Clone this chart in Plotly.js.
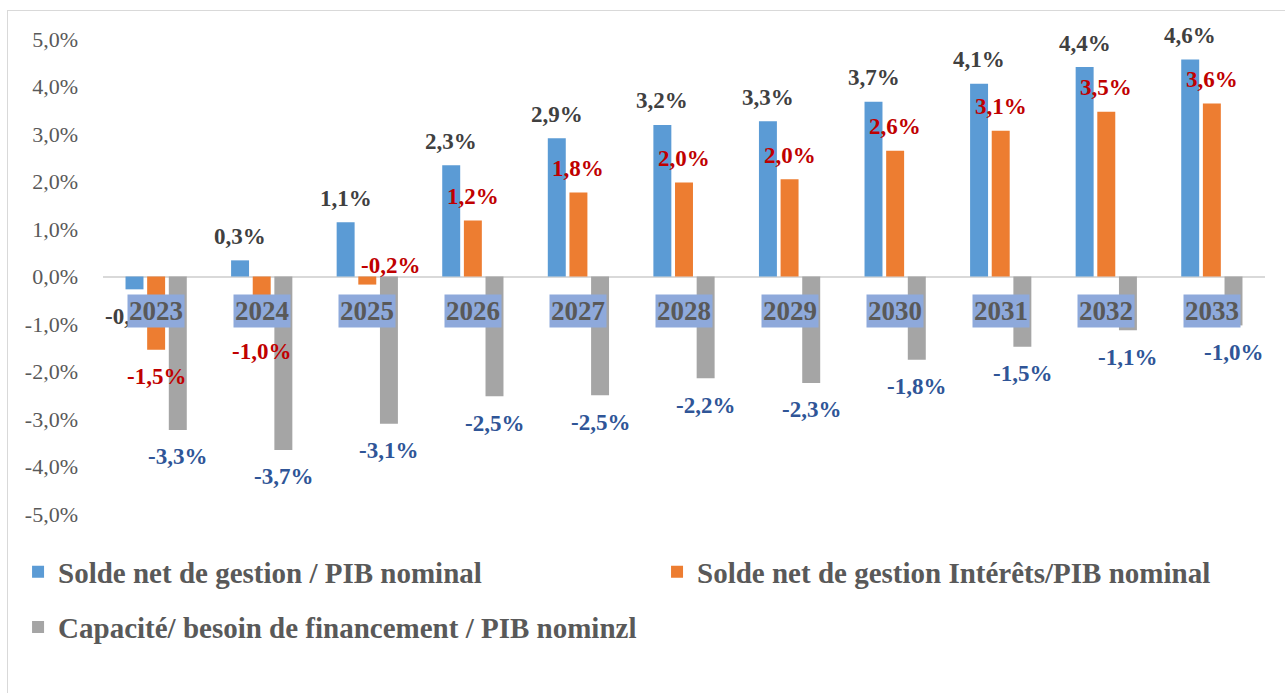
<!DOCTYPE html>
<html>
<head>
<meta charset="utf-8">
<script src="https://cdn.plot.ly/plotly-3.0.1.min.js"></script>
<style>
  html, body { margin: 0; padding: 0; background: #fff; }
  #chart { position: absolute; left: 0; top: 0; width: 1285px; height: 693px; }
  #frame { position: absolute; left: 7px; top: 10px; width: 1290px; height: 700px;
           border: 1px solid #D9D9D9; pointer-events: none; }
</style>
</head>
<body>
<div id="chart"></div>
<div id="frame"></div>
<script>
// ---- data ----
const years = ["2023","2024","2025","2026","2027","2028","2029","2030","2031","2032","2033"];
const seriesNames = [
  "Solde net de gestion / PIB nominal",
  "Solde net de gestion Intérêts/PIB nominal",
  "Capacité/ besoin de financement / PIB nominzl"
];
const soldeNet = [-0.27, 0.34, 1.14, 2.34, 2.91, 3.19, 3.27, 3.68, 4.06, 4.41, 4.57];
const soldeInterets = [-1.54, -1.0, -0.17, 1.18, 1.77, 1.98, 2.05, 2.65, 3.07, 3.47, 3.64];
const capacite = [-3.23, -3.65, -3.1, -2.52, -2.5, -2.14, -2.24, -1.75, -1.48, -1.13, -1.03];
const soldeNetLabels = ["-0,3%","0,3%","1,1%","2,3%","2,9%","3,2%","3,3%","3,7%","4,1%","4,4%","4,6%"];
const soldeInteretsLabels = ["-1,5%","-1,0%","-0,2%","1,2%","1,8%","2,0%","2,0%","2,6%","3,1%","3,5%","3,6%"];
const capaciteLabels = ["-3,3%","-3,7%","-3,1%","-2,5%","-2,5%","-2,2%","-2,3%","-1,8%","-1,5%","-1,1%","-1,0%"];
const yTickValues = [-5, -4, -3, -2, -1, 0, 1, 2, 3, 4, 5];

// ---- styling ----
const SERIF = "Liberation Serif, Times New Roman, serif";
const colors = ["#5B9BD5", "#ED7D31", "#A5A5A5"];
const labelColors = ["#404040", "#C00000", "#2F5597"];
const bargap = 0.385;
const bargroupgap = 0.17;

const allVals = [soldeNet, soldeInterets, capacite];
const allLabels = [soldeNetLabels, soldeInteretsLabels, capaciteLabels];
const legends = ["legend", "legend3", "legend2"];

const traces = allVals.map((vals, k) => ({
  type: "bar",
  x: years,
  y: vals,
  name: seriesNames[k],
  legend: legends[k],
  marker: { color: colors[k] },
  hoverinfo: "x+y"
}));

// value labels, placed at each bar's slot centre through the category axis
const slot = (1 - bargap) / 3;
const annotations = [];
allVals.forEach((vals, k) => {
  vals.forEach((v, i) => {
    let xs = 0, ys = v >= 0 ? 24 : -27;
    if (k === 1 && i === 2) { xs = 23; ys = 19; } // label moved beside the short bar in the original
    annotations.push({
      x: i + (k - 1) * slot, y: v, xref: "x", yref: "y",
      text: allLabels[k][i], showarrow: false,
      xshift: xs, yshift: ys,
      font: { family: SERIF, size: 23, color: labelColors[k], weight: "bold" }
    });
  });
});
// category labels drawn just under the zero line with a filled box
years.forEach((yr, i) => {
  annotations.push({
    x: i, y: 0, xref: "x", yref: "y", yshift: -34,
    text: "<b>" + yr + "</b>", showarrow: false,
    bgcolor: "#8EA9DB", borderpad: 1,
    font: { family: SERIF, size: 27, color: "#595959" }
  });
});

const legendFont = { family: SERIF, size: 29, color: "#595959", weight: "bold" };
const layout = {
  width: 1285, height: 693,
  margin: { l: 103, r: 20, t: 39, b: 179 },
  paper_bgcolor: "rgba(0,0,0,0)",
  plot_bgcolor: "rgba(0,0,0,0)",
  barmode: "group",
  bargap: bargap,
  bargroupgap: bargroupgap,
  font: { family: SERIF, color: "#595959" },
  xaxis: { type: "category", showticklabels: false, showgrid: false, zeroline: false,
           showline: false, ticks: "", fixedrange: true, automargin: false },
  yaxis: { range: [-5, 5], tickvals: yTickValues,
           ticktext: yTickValues.map(v => v.toFixed(1).replace(".", ",") + "%"),
           showgrid: false, zeroline: true, zerolinecolor: "#D9D9D9", zerolinewidth: 2,
           ticks: "", ticklabelstandoff: 24, automargin: false,
           tickfont: { family: SERIF, size: 22, color: "#595959" }, fixedrange: true },
  showlegend: true,
  legend: {
    orientation: "h", x: -0.0731, xanchor: "left", y: -0.122, yanchor: "middle",
    font: legendFont, bgcolor: "rgba(0,0,0,0)"
  },
  legend3: {
    orientation: "h", x: 0.4768, xanchor: "left", y: -0.122, yanchor: "middle",
    font: legendFont, bgcolor: "rgba(0,0,0,0)"
  },
  legend2: {
    orientation: "h", x: -0.0731, xanchor: "left", y: -0.238, yanchor: "middle",
    font: legendFont, bgcolor: "rgba(0,0,0,0)"
  },
  annotations: annotations
};

Plotly.newPlot("chart", traces, layout, { displayModeBar: false, staticPlot: true });
</script>
</body>
</html>
